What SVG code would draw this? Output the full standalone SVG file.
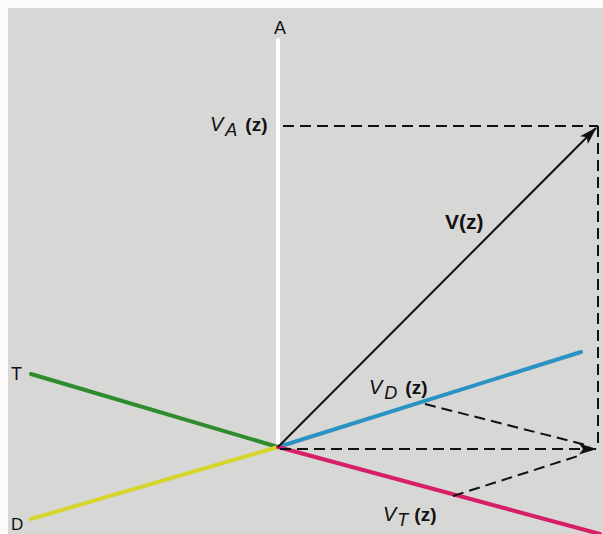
<svg xmlns="http://www.w3.org/2000/svg" width="603" height="534" viewBox="0 0 603 534">
<defs>
<style>
.lbl{font-family:"Liberation Sans","DejaVu Sans",sans-serif;fill:#111;}
.it{font-style:italic;}
.dash{stroke:#111;stroke-width:2;stroke-dasharray:11 6;fill:none;}
.axis{stroke-width:4;stroke-linecap:round;fill:none;}
</style>
<marker id="ah" viewBox="0 0 18 11" refX="17" refY="5.5" markerWidth="18" markerHeight="11" markerUnits="userSpaceOnUse" orient="auto">
<path d="M0,0 L18,5.5 L0,11 L4,5.5 Z" fill="#111"/>
</marker>
</defs>
<rect x="0" y="0" width="603" height="534" fill="#fcfafa"/>
<rect x="8" y="8" width="595" height="526" fill="#d7d7d5"/>
<g id="axis-A">
<line class="axis" x1="278" y1="40" x2="278" y2="447" stroke="#ffffff" stroke-linecap="butt"/>
<text class="lbl" x="280" y="34" font-size="18" text-anchor="middle">A</text>
</g>
<g id="axis-T">
<line class="axis" x1="31" y1="374" x2="278" y2="447" stroke="#2e8b2e"/>
<text class="lbl" x="11" y="380" font-size="18">T</text>
</g>
<g id="axis-D">
<line class="axis" x1="31" y1="519" x2="278" y2="447" stroke="#d5d52c"/>
<text class="lbl" x="11" y="530" font-size="17">D</text>
</g>
<g id="axis-blue">
<line class="axis" x1="278" y1="447" x2="581" y2="352" stroke="#2b93c4"/>
</g>
<g id="axis-magenta">
<line class="axis" x1="278" y1="447" x2="600" y2="534" stroke="#d61f68"/>
</g>
<g id="connectors">
<line class="dash" x1="283" y1="126" x2="598" y2="126"/>
<line class="dash" x1="598" y1="126" x2="598" y2="449"/>
<line class="dash" x1="280" y1="449" x2="596" y2="449" marker-end="url(#ah)"/>
<line class="dash" x1="425" y1="404" x2="590" y2="446"/>
<line class="dash" x1="453" y1="496" x2="578" y2="456"/>
<line x1="278" y1="447" x2="596" y2="128" stroke="#111" stroke-width="2" marker-end="url(#ah)"/>
</g>
<g id="label-VA">
<text class="lbl" x="210" y="131" font-size="20"><tspan class="it">V</tspan><tspan class="it" font-size="18" dx="2" dy="5">A</tspan><tspan dx="8" dy="-5" font-size="19" font-weight="bold">(z)</tspan></text>
</g>
<g id="label-V">
<text class="lbl" x="445" y="229" font-size="21" font-weight="bold">V(z)</text>
</g>
<g id="label-VD">
<text class="lbl" x="369" y="394" font-size="20"><tspan class="it">V</tspan><tspan class="it" font-size="18" dx="2" dy="5">D</tspan><tspan dx="8" dy="-5" font-size="19" font-weight="bold">(z)</tspan></text>
</g>
<g id="label-VT">
<text class="lbl" x="383" y="521" font-size="20"><tspan class="it">V</tspan><tspan class="it" font-size="18" dx="1" dy="5">T</tspan><tspan dx="6" dy="-5" font-size="19" font-weight="bold">(z)</tspan></text>
</g>
</svg>
